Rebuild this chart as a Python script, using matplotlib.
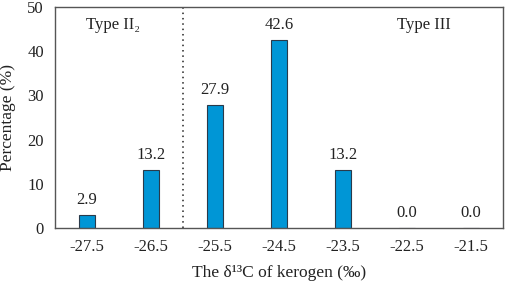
import matplotlib.pyplot as plt

plt.rcParams['font.family'] = ['Liberation Serif', 'DejaVu Serif']

categories = ['-27.5', '-26.5', '-25.5', '-24.5', '-23.5', '-22.5', '-21.5']
values = [2.9, 13.2, 27.9, 42.6, 13.2, 0.0, 0.0]
labels = ['2.9', '13.2', '27.9', '42.6', '13.2', '0.0', '0.0']

fig = plt.figure(figsize=(5.05, 2.84), dpi=100)
ax = fig.add_axes([0.109, 0.197, 0.887, 0.778])

x = list(range(len(categories)))
ax.bar(x, values, width=0.25, color='#0096d6', edgecolor='#2a3a4a', linewidth=0.8)
for xi, v, lab in zip(x, values, labels):
    ax.text(xi, v + 1.6, lab, ha='center', va='bottom', fontsize=12, color='#222222')

ax.axvline(1.5, color='#222222', linestyle=(0, (1, 2.5)), linewidth=1.1)

ax.set_xlim(-0.5, 6.5)
ax.set_ylim(0, 50)
ax.set_xticks(x)
ax.set_xticklabels(categories)
ax.set_yticks([0, 10, 20, 30, 40, 50])
ax.tick_params(length=0, labelsize=12, colors='#222222')
ax.tick_params(axis='x', pad=8)
ax.tick_params(axis='y', pad=8)

for s in ax.spines.values():
    s.set_color('#555555')
    s.set_linewidth(1.0)

ax.text(0.07, 0.92, 'Type II\u2082', transform=ax.transAxes, fontsize=12,
        va='center', color='#222222')
ax.text(0.763, 0.92, 'Type III', transform=ax.transAxes, fontsize=12,
        va='center', color='#222222')

ax.set_xlabel('The \u03b4\u00b9\u00b3C of kerogen (\u2030)', fontsize=12.5, labelpad=7, color='#222222')
ax.set_ylabel('Percentage (%)', fontsize=12.5, labelpad=8, color='#222222')

fig.savefig('out.png', dpi=100)
